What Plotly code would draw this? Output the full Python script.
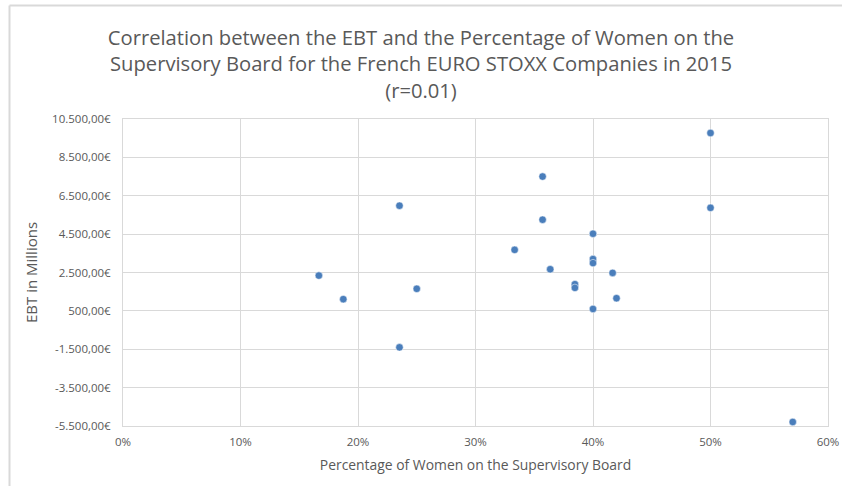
import plotly.graph_objects as go

# Percentage of women on the supervisory board (fraction)
women_share = [0.1667, 0.1875, 0.2353, 0.2353, 0.25, 0.3333, 0.3571, 0.3571, 0.3636,
               0.3846, 0.3846, 0.40, 0.40, 0.40, 0.40, 0.4167, 0.42, 0.50, 0.50, 0.57]
# EBT in millions of euro
ebt_millions = [2340, 1110, 5980, -1400, 1650, 3680, 7500, 5250, 2670,
                1890, 1700, 4520, 3200, 2990, 600, 2480, 1160, 9770, 5870, -5290]

# y-axis tick values and their labels
y_ticks = [-5500, -3500, -1500, 500, 2500, 4500, 6500, 8500, 10500]
y_tick_labels = ["-5.500,00€", "-3.500,00€", "-1.500,00€", "500,00€", "2.500,00€",
                 "4.500,00€", "6.500,00€", "8.500,00€", "10.500,00€"]

title_text = ("Correlation between the EBT and the Percentage of Women on the<br>"
              "Supervisory Board for the French EURO STOXX Companies in 2015<br>(r=0.01)")

FONT = "Open Sans"
GRAY = "#595959"
GRID = "#d9d9d9"
CLEAR = "rgba(0,0,0,0)"

fig = go.Figure()
fig.add_trace(go.Scatter(
    x=women_share, y=ebt_millions, mode="markers",
    marker=dict(color="#4a7ebb", size=7.5, line=dict(color="#ffffff", width=0.5)),
    showlegend=False,
))

L, R, T, B = 123, 14, 119, 60
W, H = 842, 486
pw, ph = W - L - R, H - T - B

fig.update_layout(
    width=W, height=H,
    margin=dict(l=L, r=R, t=T, b=B),
    paper_bgcolor="white", plot_bgcolor="white",
    separators=",.",
    font=dict(family=FONT, color=GRAY),
    title=dict(text=title_text, x=0.5, xanchor="center", xref="container",
               y=1 - 45 / H, yanchor="middle", yref="container",
               font=dict(family=FONT, size=20.2, color=GRAY)),
    xaxis=dict(range=[0, 0.6], dtick=0.1, tick0=0, tickformat=".0%",
               automargin=False,
               showgrid=True, gridcolor=GRID, gridwidth=1,
               showline=True, linecolor=GRID, linewidth=1, mirror=True,
               zeroline=False, ticks="outside", ticklen=5, tickcolor=CLEAR,
               tickfont=dict(size=11.5, color=GRAY),
               title=dict(text="Percentage of Women on the Supervisory Board",
                          font=dict(size=13.9, color=GRAY), standoff=12)),
    yaxis=dict(range=[-5500, 10500], tickmode="array", tickvals=y_ticks,
               ticktext=y_tick_labels, automargin=False,
               showgrid=True, gridcolor=GRID, gridwidth=1,
               showline=True, linecolor=GRID, linewidth=1, mirror=True,
               zeroline=False, ticks="outside", ticklen=9, tickcolor=CLEAR,
               tickfont=dict(size=11.5, color=GRAY),
               title=dict(text="EBT in Millions", font=dict(size=15, color=GRAY),
                          standoff=10)),
)

# outer chart border (left and top edges visible)
x_left = (9.5 - L) / pw
y_top = (H - B - 5.5) / ph
fig.add_shape(type="line", xref="paper", yref="paper", x0=x_left, x1=x_left,
              y0=y_top, y1=-0.5, line=dict(color=GRID, width=2))
fig.add_shape(type="line", xref="paper", yref="paper", x0=x_left, x1=1.5,
              y0=y_top, y1=y_top, line=dict(color=GRID, width=2))

fig.write_html("out.html", config={"displayModeBar": False},
               post_script="document.body.style.margin='0';document.body.style.overflow='hidden';")
